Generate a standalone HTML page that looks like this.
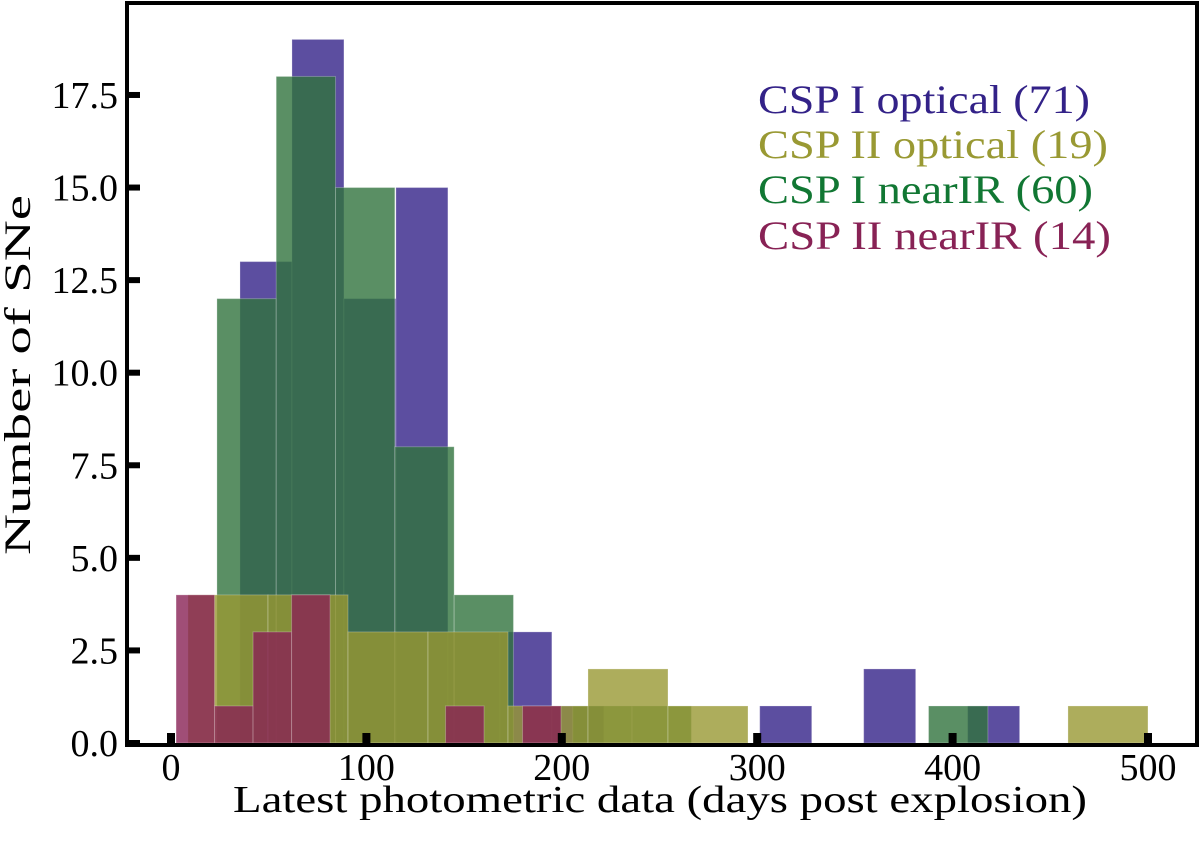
<!DOCTYPE html>
<html><head><meta charset="utf-8"><style>
body{margin:0;background:#fff;}
svg text{font-family:"Liberation Serif",serif;}
</style></head><body>
<svg id="chart" width="1200" height="847" viewBox="0 0 1200 847" xmlns="http://www.w3.org/2000/svg">
<g id="bars"></g>
<rect x="127" y="3" width="1070" height="742" fill="none" stroke="#000" stroke-width="4"/>
<g id="axes"></g>
<text x="233" y="812" font-size="38" textLength="854" lengthAdjust="spacingAndGlyphs">Latest photometric data (days post explosion)</text>
<text transform="translate(30,555) rotate(-90)" font-size="37" textLength="360" lengthAdjust="spacingAndGlyphs">Number of SNe</text>
<g font-size="40">
<text x="758" y="113" fill="#332288" textLength="332" lengthAdjust="spacingAndGlyphs">CSP I optical (71)</text>
<text x="758" y="158" fill="#999933" textLength="350" lengthAdjust="spacingAndGlyphs">CSP II optical (19)</text>
<text x="758" y="203" fill="#117733" textLength="335" lengthAdjust="spacingAndGlyphs">CSP I nearIR (60)</text>
<text x="758" y="249" fill="#882255" textLength="353" lengthAdjust="spacingAndGlyphs">CSP II nearIR (14)</text>
</g>
</svg>
<script>
// data (days, counts)
const blueStart = 35.3, blueWidth = 26.6;
const blueCounts = [13,19,12,15,3,3,1,0,0,0,1,0,2,0,1];
const greenStart = 23.5, greenWidth = 30.35;
const greenCounts = [12,18,15,8,4,0,1,1,0,0,0,0,1];
const oliveStart = 8.7, oliveWidth = 40.94;
const oliveCounts = [4,4,3,3,1,2,1,0,0,0,0,1];
const redStart = 2.6, redWidth = 19.7;
const redCounts = [4,1,3,4,0,0,0,1,0,1];
const xTicks = [0,100,200,300,400,500];
const yTicks = [0,2.5,5,7.5,10,12.5,15,17.5];
const yTickLabels = ["0.0","2.5","5.0","7.5","10.0","12.5","15.0","17.5"];

const NS = "http://www.w3.org/2000/svg";
function xs(d){ return 171 + d*1.954; }
function ys(v){ return 743 - v*37.03; }
const barsG = document.getElementById('bars');
function drawHist(start, width, counts, color, name){
  counts.forEach((c,i)=>{
    if(c<=0) return;
    const x0 = xs(start+i*width), x1 = xs(start+(i+1)*width);
    const r = document.createElementNS(NS,'rect');
    r.setAttribute('x', x0); r.setAttribute('width', x1-x0);
    r.setAttribute('y', ys(c)); r.setAttribute('height', ys(0)-ys(c));
    r.setAttribute('fill', color); r.setAttribute('fill-opacity','0.8');
    r.setAttribute('stroke','#fff'); r.setAttribute('stroke-opacity','0.25'); r.setAttribute('stroke-width','1');
    
    
    r.setAttribute('class', name);
    barsG.appendChild(r);
  });
}
drawHist(blueStart, blueWidth, blueCounts, '#332288', 'csp1-optical');
drawHist(greenStart, greenWidth, greenCounts, '#31733d', 'csp1-nearir');
drawHist(oliveStart, oliveWidth, oliveCounts, '#999933', 'csp2-optical');
drawHist(redStart, redWidth, redCounts, '#882255', 'csp2-nearir');

const axG = document.getElementById('axes');
xTicks.forEach(t=>{
  const m = document.createElementNS(NS,'rect');
  m.setAttribute('x', xs(t)-4); m.setAttribute('y', 733); m.setAttribute('width', 8); m.setAttribute('height', 11);
  m.setAttribute('fill','#000');
  
  
  axG.appendChild(m);
  const l = document.createElementNS(NS,'text');
  l.setAttribute('x', xs(t)); l.setAttribute('y', 780); l.setAttribute('font-size','38'); l.setAttribute('text-anchor','middle');
  l.textContent = String(t);
  
  
  axG.appendChild(l);
});
yTicks.forEach((t,i)=>{
  const m = document.createElementNS(NS,'rect');
  m.setAttribute('x', 127); m.setAttribute('y', ys(t)-3); m.setAttribute('width', 13); m.setAttribute('height', 6);
  m.setAttribute('fill','#000');
  
  
  axG.appendChild(m);
  const l = document.createElementNS(NS,'text');
  l.setAttribute('x', 118); l.setAttribute('y', ys(t)+13); l.setAttribute('font-size','38'); l.setAttribute('text-anchor','end');
  l.textContent = yTickLabels[i];
  
  
  axG.appendChild(l);
});
</script>
</body></html>
